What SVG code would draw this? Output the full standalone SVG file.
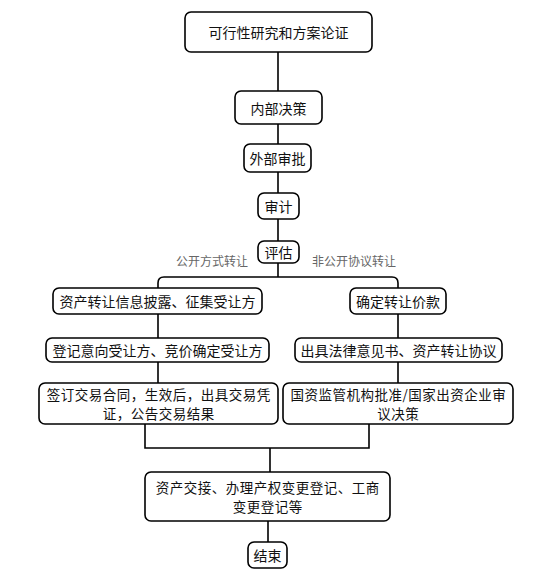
<svg xmlns="http://www.w3.org/2000/svg" width="554" height="578" viewBox="0 0 554 578">
<style>
.box{fill:#fff;stroke:#000;stroke-width:1.6}
.t{font-family:"Noto Sans CJK SC","Noto Sans CJK JP",sans-serif;font-size:14px;fill:#111;text-anchor:middle;dominant-baseline:central}
.m{font-size:13.5px;letter-spacing:0.5px}
.lbl{font-family:"Noto Sans CJK SC","Noto Sans CJK JP",sans-serif;font-size:12px;fill:#666;text-anchor:middle;dominant-baseline:central}
.ln{fill:none;stroke:#000;stroke-width:1.6}
</style>
<rect width="554" height="578" fill="#fff"/>
<g id="connectors">
<path class="ln" d="M278 52V91M278 124V144M278 172V193M278 219V241M278 263V277"/>
<path class="ln" d="M158 288V283Q158 277 164 277H392Q398 277 398 283V288"/>
<path class="ln" d="M158 314V338M158 362V383M398 314V338M398 362V383"/>
<path class="ln" d="M145 424V448H369V424M270 448V472M268 521V542"/>
</g>
<g id="n1"><rect class="box" x="185" y="12" width="187" height="40" rx="6"/><text class="t" x="278.5" y="32">可行性研究和方案论证</text></g>
<g id="n2"><rect class="box" x="235" y="91" width="87" height="33" rx="6"/><text class="t" x="278.5" y="107.5">内部决策</text></g>
<g id="n3"><rect class="box" x="244" y="144" width="67" height="28" rx="6"/><text class="t" x="277.5" y="158">外部审批</text></g>
<g id="n4"><rect class="box" x="258" y="193" width="41" height="26" rx="6"/><text class="t" x="278.5" y="206">审计</text></g>
<g id="n5"><rect class="box" x="258" y="241" width="41" height="22" rx="6"/><text class="t" x="278.5" y="252">评估</text></g>
<g id="lbl1"><text class="lbl" x="212" y="260">公开方式转让</text></g>
<g id="lbl2"><text class="lbl" x="354" y="260">非公开协议转让</text></g>
<g id="l1"><rect class="box" x="53" y="288" width="209" height="26" rx="6"/><text class="t" x="157.5" y="301">资产转让信息披露、征集受让方</text></g>
<g id="l2"><rect class="box" x="46" y="338" width="223" height="24" rx="6"/><text class="t" x="157.5" y="350">登记意向受让方、竞价确定受让方</text></g>
<g id="l3"><rect class="box" x="39" y="383" width="239" height="41" rx="6"/><text class="t m" x="158.8" y="394">签订交易合同，生效后，出具交易凭</text><text class="t m" x="158.8" y="413">证，公告交易结果</text></g>
<g id="r1"><rect class="box" x="350" y="288" width="96" height="26" rx="6"/><text class="t" x="398" y="301">确定转让价款</text></g>
<g id="r2"><rect class="box" x="295" y="338" width="207" height="24" rx="6"/><text class="t" x="398.5" y="350">出具法律意见书、资产转让协议</text></g>
<g id="r3"><rect class="box" x="283" y="383" width="230" height="41" rx="6"/><text class="t m" x="398.3" y="394">国资监管机构批准/国家出资企业审</text><text class="t m" x="398.3" y="413">议决策</text></g>
<g id="n6"><rect class="box" x="145" y="472" width="245" height="49" rx="6"/><text class="t m" x="267.8" y="487">资产交接、办理产权变更登记、工商</text><text class="t m" x="267.8" y="506">变更登记等</text></g>
<g id="n7"><rect class="box" x="248" y="542" width="39" height="26" rx="6"/><text class="t" x="267.5" y="555">结束</text></g>
</svg>
